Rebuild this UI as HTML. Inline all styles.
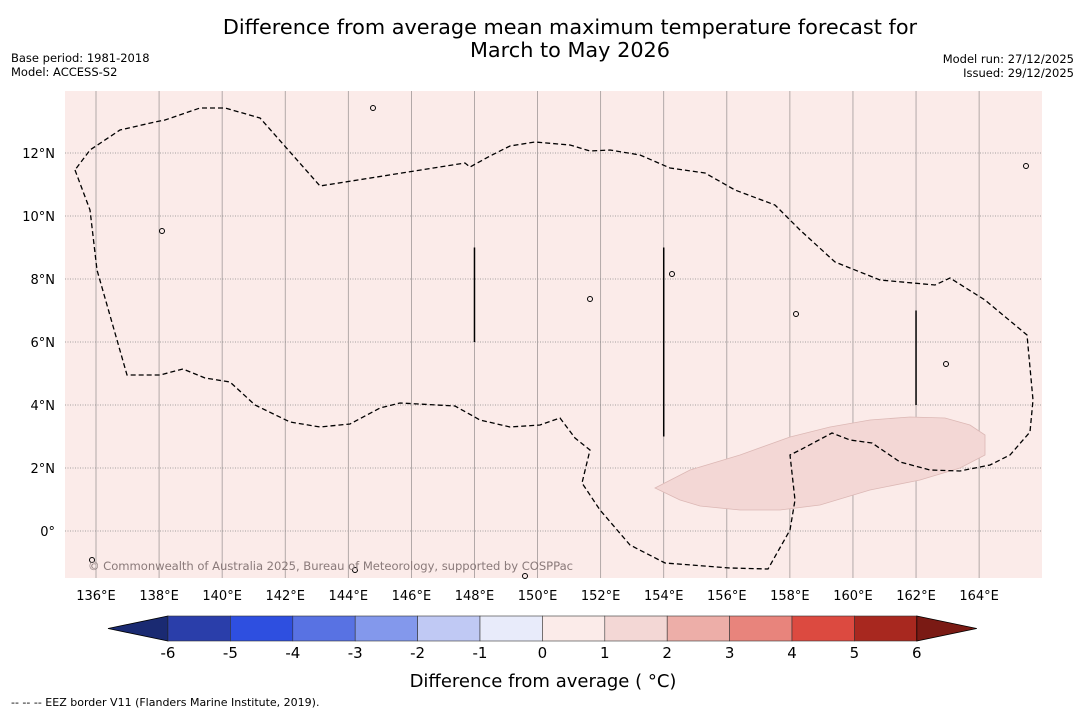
<!DOCTYPE html>
<html><head><meta charset="utf-8"><style>
body{margin:0;background:#fff;font-family:"Liberation Sans","DejaVu Sans",sans-serif;}
svg text{font-family:"DejaVu Sans","Liberation Sans",sans-serif;}
</style></head><body>
<svg id="c" width="1085" height="713" xmlns="http://www.w3.org/2000/svg">
<text x="570" y="34" font-size="20.8" text-anchor="middle">Difference from average mean maximum temperature forecast for</text>
<text x="570" y="57" font-size="20.8" text-anchor="middle">March to May 2026</text>
<text x="11" y="62" font-size="11.5">Base period: 1981-2018</text>
<text x="11" y="76" font-size="11.5">Model: ACCESS-S2</text>
<text x="1074" y="63" font-size="11.5" text-anchor="end">Model run: 27/12/2025</text>
<text x="1074" y="77" font-size="11.5" text-anchor="end">Issued: 29/12/2025</text>
<rect x="65" y="91" width="977" height="487" fill="#fbebe9"/>
<g id="grid"></g>
<g id="marks"></g>
<text x="88" y="570" font-size="11.6" fill="#8a7a7a" textLength="485">© Commonwealth of Australia 2025, Bureau of Meteorology, supported by COSPPac</text>
<g id="xt"></g>
<g id="cb"></g>
<text x="543" y="687" font-size="18" text-anchor="middle">Difference from average ( °C)</text>
<text x="11" y="706" font-size="11">--  --  -- EEZ border V11 (Flanders Marine Institute, 2019).</text>
</svg>
<script>
const lonTicks=[136,138,140,142,144,146,148,150,152,154,156,158,160,162,164];
const latTicks=[0,2,4,6,8,10,12];
const cbLevels=[-6,-5,-4,-3,-2,-1,0,1,2,3,4,5,6];
const cbColors=["#2a3eaa","#2e4fe0","#5872e3","#8398ec","#c0c9f4","#e8ebfa","#fbebe9","#f3d7d5","#edaea8","#e8847c","#dc4a40","#a8281f"];
const eezPx=[[75,170],[90,210],[97,270],[127,375],[160,375],[183,369],[205,378],[230,382],[255,405],[290,422],[320,427],[350,424],[380,408],[400,403],[455,406],[480,420],[510,427],[540,425],[560,418],[575,438],[590,450],[582,483],[600,510],[630,545],[665,563],[730,568],[768,569],[790,530],[795,500],[790,455],[800,450],[832,433],[850,440],[872,443],[900,462],[930,470],[960,471],[990,465],[1010,455],[1030,432],[1033,400],[1027,335],[985,300],[950,278],[935,285],[880,280],[835,262],[800,230],[775,205],[735,190],[705,173],[670,168],[640,155],[610,150],[590,151],[570,145],[535,142],[510,146],[490,156],[470,167],[465,163],[320,186],[260,118],[225,108],[200,108],[165,120],[155,122],[120,130],[90,150],[75,170]];
const anomPx=[[655,488],[690,470],[740,455],[790,437],[830,427],[870,420],[910,417],[945,418],[970,425],[985,435],[985,455],[960,468],[920,480],[870,490],[820,505],[780,510],[740,510],[700,506],[680,500],[655,488]];
const islandsPx=[[373,108],[162,231],[590,299],[796,314],[672,274],[946,364],[1026,166],[1046,0],[92,560],[355,570],[525,576]];
const segLon=[148,154,162];
const segLat=[[6,9],[3,9],[4,7]];
const NS="http://www.w3.org/2000/svg";
const X=lon=>96+(lon-136)*31.54, Y=lat=>531-lat*31.5;
function mk(t,a,p){const e=document.createElementNS(NS,t);for(const k in a)e.setAttribute(k,a[k]);p.appendChild(e);return e;}
const grid=document.getElementById('grid'),marks=document.getElementById('marks'),xt=document.getElementById('xt'),cb=document.getElementById('cb');
lonTicks.forEach(l=>{const e=mk('line',{x1:X(l),x2:X(l),y1:91,y2:578,stroke:'#a09898','stroke-width':0.8},grid);

const t=mk('text',{x:X(l),y:600,'font-size':13,'text-anchor':'middle'},xt);t.textContent=l+'°E';
});
latTicks.forEach(l=>{const e=mk('line',{x1:65,x2:1042,y1:Y(l),y2:Y(l),stroke:'#888','stroke-width':0.8,'stroke-dasharray':'1,1.5'},grid);

const t=mk('text',{x:55,y:Y(l)+5,'font-size':13,'text-anchor':'end'},xt);t.textContent=l===0?'0°':l+'°N';
});
const an=mk('polygon',{points:anomPx.map(p=>p.join(',')).join(' '),fill:'#f3d7d5',stroke:'#dcb8b5','stroke-width':0.8},marks);

const ez=mk('polyline',{points:eezPx.map(p=>p.join(',')).join(' '),fill:'none',stroke:'#000','stroke-width':1.3,'stroke-dasharray':'5,3'},marks);

islandsPx.filter(p=>p[1]>0).forEach(p=>{const e=mk('circle',{cx:p[0],cy:p[1],r:2.5,fill:'none',stroke:'#000','stroke-width':1},marks);
});
segLon.forEach((l,i)=>{const e=mk('line',{x1:X(l),x2:X(l),y1:Y(segLat[i][1]),y2:Y(segLat[i][0]),stroke:'#000','stroke-width':1.5},marks);
});
const cx0=168,w=62.4,y0=616,h=25;
let e=mk('polygon',{points:`108,${y0+h/2} ${cx0},${y0} ${cx0},${y0+h}`,fill:'#1a2a72',stroke:'#000','stroke-width':0.8},cb);

cbColors.forEach((c,i)=>{const r=mk('rect',{x:cx0+i*w,y:y0,width:w,height:h,fill:c,stroke:'#333','stroke-width':0.6},cb);
});
const xe=cx0+cbColors.length*w;
e=mk('polygon',{points:`${xe},${y0} ${xe+60},${y0+h/2} ${xe},${y0+h}`,fill:'#7a1a14',stroke:'#000','stroke-width':0.8},cb);

cbLevels.forEach((v,i)=>{const t=mk('text',{x:cx0+i*w,y:658,'font-size':15,'text-anchor':'middle'},cb);t.textContent=v;
});
</script>
</body></html>
